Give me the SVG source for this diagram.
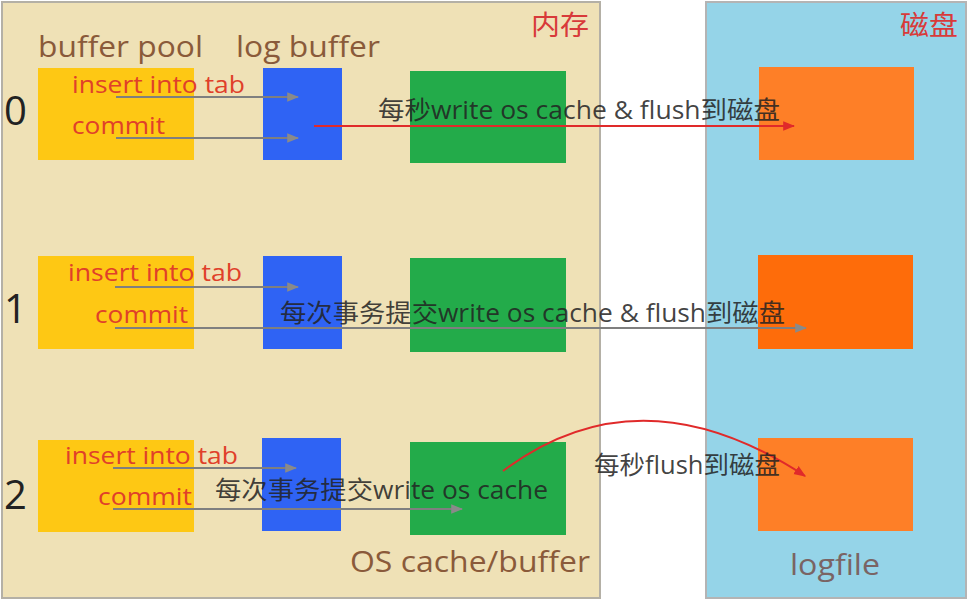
<svg xmlns="http://www.w3.org/2000/svg" width="968" height="601" viewBox="0 0 968 601">
<defs>
<style>
text{font-family:"Open Sans","Noto Sans CJK SC",sans-serif}
.lbl{fill:#8a5a3a;font-size:29px}
.num{fill:#222;font-size:40px}
.sql{fill:#e0402a;font-size:24px}
.note{fill:#222;font-size:25px;fill-opacity:0.85}
.title{fill:#d83a3a;font-size:27px;font-family:"Noto Sans CJK SC",sans-serif}
.yel{fill:#fec814}
.blu{fill:#2f63f4}
.grn{fill:#23ab4a}
.org{fill:#fe7f27}
.g{stroke:#7f7f7f;stroke-width:2;fill:none;marker-end:url(#ga)}
.r{stroke:#e02a2a;stroke-width:2;fill:none;marker-end:url(#ra)}
</style>
<marker id="ga" viewBox="0 0 10 10" refX="9" refY="5" markerWidth="6" markerHeight="6" orient="auto"><path d="M0,1 L10,5 L0,9 z" fill="#8a8a8a"/></marker>
<marker id="ra" viewBox="0 0 10 10" refX="9" refY="5" markerWidth="6" markerHeight="6" orient="auto"><path d="M0,1 L10,5 L0,9 z" fill="#e02a2a"/></marker>
</defs>
<rect width="968" height="601" fill="#ffffff"/>
<g id="memory">
<rect x="2" y="2" width="598" height="596" fill="#efe1b6" stroke="#b4b0a6" stroke-width="2"/>
<text class="title" x="531" y="35" textLength="58" lengthAdjust="spacingAndGlyphs">内存</text>
</g>
<g id="disk">
<rect x="706" y="2" width="260" height="596" fill="#95d4e8" stroke="#b4b4b4" stroke-width="2"/>
<text class="title" x="900" y="35" textLength="58" lengthAdjust="spacingAndGlyphs">磁盘</text>
</g>
<text class="lbl" x="38" y="57" textLength="165" lengthAdjust="spacingAndGlyphs">buffer pool</text>
<text class="lbl" x="236" y="57" textLength="144" lengthAdjust="spacingAndGlyphs">log buffer</text>
<text class="lbl" x="350" y="572" textLength="240" lengthAdjust="spacingAndGlyphs">OS cache/buffer</text>
<text class="lbl" x="790" y="575" style="fill:#7a6464" textLength="90" lengthAdjust="spacingAndGlyphs">logfile</text>
<text class="num" x="4" y="125">0</text>
<text class="num" x="4" y="323">1</text>
<text class="num" x="4" y="509">2</text>
<g id="row0">
<rect class="yel" x="38" y="68" width="156" height="92"/>
<rect class="blu" x="263" y="68" width="79" height="92"/>
<rect class="grn" x="410" y="71" width="156" height="92"/>
<rect class="org" x="759" y="67" width="155" height="93"/>
<text class="sql" x="72" y="93" textLength="173" lengthAdjust="spacingAndGlyphs">insert into tab</text>
<text class="sql" x="72" y="134" textLength="93" lengthAdjust="spacingAndGlyphs">commit</text>
</g>
<g id="row1">
<rect class="yel" x="38" y="256" width="156" height="93"/>
<rect class="blu" x="263" y="256" width="79" height="93"/>
<rect class="grn" x="410" y="258" width="156" height="94"/>
<rect x="758" y="255" width="155" height="94" fill="#fe6c0a"/>
<text class="sql" x="68" y="281" textLength="174" lengthAdjust="spacingAndGlyphs">insert into tab</text>
<text class="sql" x="95" y="323" textLength="93" lengthAdjust="spacingAndGlyphs">commit</text>
</g>
<g id="row2">
<rect class="yel" x="38" y="440" width="156" height="92"/>
<rect class="blu" x="262" y="438" width="79" height="93"/>
<rect class="grn" x="410" y="442" width="156" height="93"/>
<rect class="org" x="758" y="438" width="155" height="93"/>
<text class="sql" x="65" y="464" textLength="173" lengthAdjust="spacingAndGlyphs">insert into tab</text>
<text class="sql" x="98" y="505" textLength="94" lengthAdjust="spacingAndGlyphs">commit</text>
</g>
<g id="connectors">
<line class="g" x1="116" y1="97" x2="298" y2="97"/>
<line class="g" x1="116" y1="138" x2="298" y2="138"/>
<line class="r" x1="314" y1="126" x2="794" y2="126"/>
<line class="g" x1="115" y1="287" x2="298" y2="287"/>
<line class="g" x1="115" y1="328" x2="806" y2="328"/>
<line class="g" x1="113" y1="468" x2="296" y2="468"/>
<line class="g" x1="113" y1="509" x2="462" y2="509"/>
<path class="r" d="M503,471 Q640,368 805,476"/>
</g>
<g id="notes">
<text class="note" x="378" y="119" textLength="402" lengthAdjust="spacingAndGlyphs">每秒write os cache &amp; flush到磁盘</text>
<text class="note" x="280" y="322" textLength="505" lengthAdjust="spacingAndGlyphs">每次事务提交write os cache &amp; flush到磁盘</text>
<text class="note" x="215" y="499" textLength="333" lengthAdjust="spacingAndGlyphs">每次事务提交write os cache</text>
<text class="note" x="594" y="474" textLength="186" lengthAdjust="spacingAndGlyphs">每秒flush到磁盘</text>
</g>
</svg>
